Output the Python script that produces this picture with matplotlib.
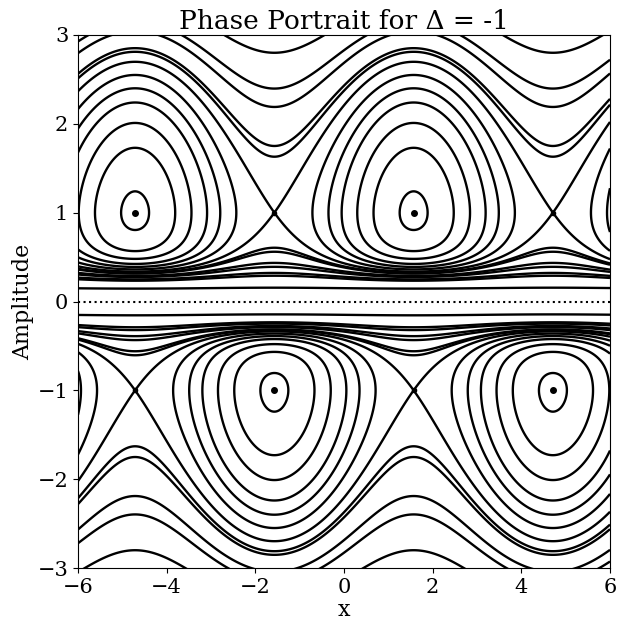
import numpy as np
import matplotlib.pyplot as plt

plt.rcParams['font.family'] = 'DejaVu Serif'
plt.rcParams['mathtext.fontset'] = 'dejavuserif'

# model parameters
delta = -1.0
stiff = 0.54
drive = 1.5

# amplitudes (upper half; the lower half is the
# mirror image a -> -a, x -> x + pi)
tops_at_half_pi = [1.24, 1.73, 2.01, 2.24, 2.40, 2.55]   # closed orbits at x = pi/2
troughs_at_3half_pi = [1.63, 2.19, 2.80]                 # open curves above the separatrix
humps_at_3half_pi = [0.56, 0.39, 0.29]                   # open curves below the separatrix
flat_amps = [0.15]                                       # nearly straight line close to 0

center_x = [-3 * np.pi / 2, np.pi / 2, -np.pi / 2, 3 * np.pi / 2]
center_a = [1, 1, -1, -1]
saddle_x = [-np.pi / 2, 3 * np.pi / 2, -3 * np.pi / 2, np.pi / 2]
saddle_a = [1, 1, -1, -1]


def energy(x, a):
    r = np.abs(a)
    g = np.log(r) - delta / (2 * r**2) + stiff * (r**3 / 3 + delta * r)
    return np.sign(a) * g - drive * np.sin(x)


levels = [energy(np.pi / 2, a) for a in tops_at_half_pi]
levels += [energy(-np.pi / 2, 1.0)]
levels += [energy(3 * np.pi / 2, a) for a in troughs_at_3half_pi]
levels += [energy(3 * np.pi / 2, a) for a in humps_at_3half_pi]
levels += [energy(0.0, a) for a in flat_amps]
levels = np.sort(levels)

x = np.linspace(-6, 6, 1500)
a_up = np.linspace(0.02, 3.05, 1400)
X, A = np.meshgrid(x, a_up)

fig = plt.figure(figsize=(6.28, 6.33), dpi=100)
ax = fig.add_axes([78 / 628, 1 - 568 / 633, 532 / 628, 533 / 633])

ax.contour(X, A, energy(X, A), levels=levels, colors='k',
           linewidths=1.7, linestyles='solid')
ax.contour(X, -A, energy(X, -A), levels=np.sort(-levels), colors='k',
           linewidths=1.7, linestyles='solid')
ax.axhline(0, color='k', ls=':', lw=1.5)

ax.plot(center_x, center_a, 'ko', ms=4, ls='none')
ax.plot(saddle_x, saddle_a, 'ko', ms=3, ls='none')

ax.set_xlim(-6, 6)
ax.set_ylim(-3, 3)
ax.set_xticks([-6, -4, -2, 0, 2, 4, 6])
ax.set_yticks([-3, -2, -1, 0, 1, 2, 3])
ax.tick_params(labelsize=15)
ax.set_xlabel('x', fontsize=16, labelpad=2)
ax.set_ylabel('Amplitude', fontsize=16, labelpad=2)
ax.set_title('Phase Portrait for Δ = -1', fontsize=19, pad=4)

fig.savefig('out.png', dpi=100)
